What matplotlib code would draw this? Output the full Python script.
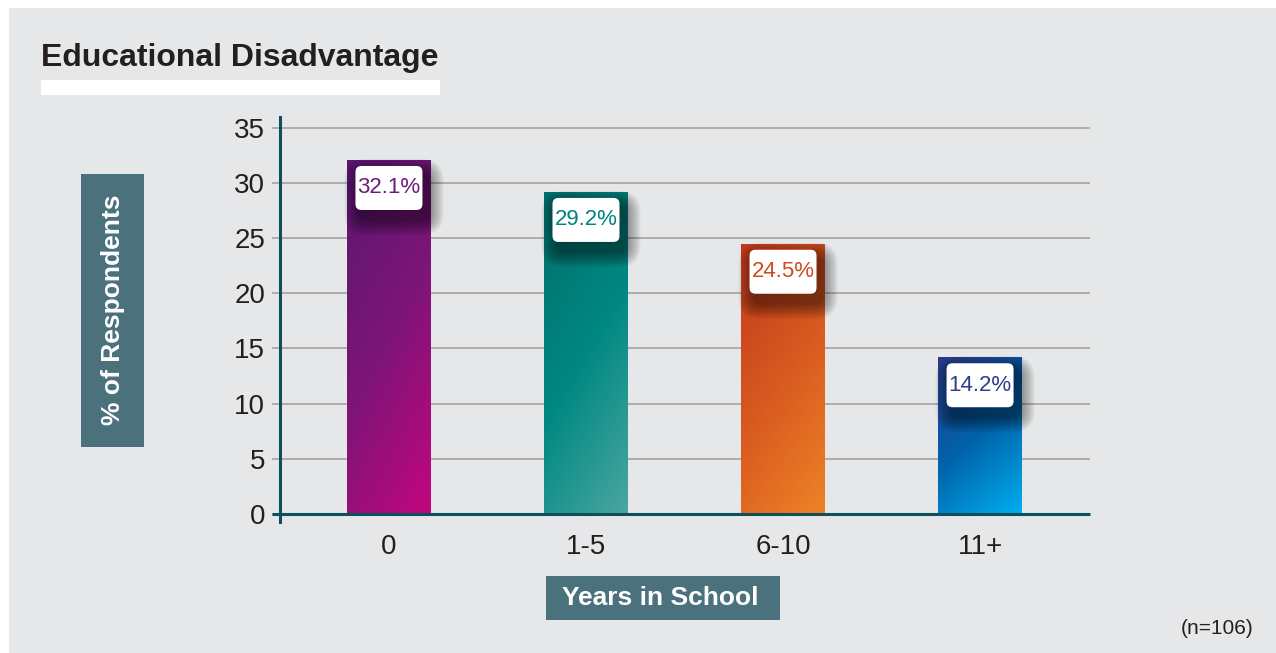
import matplotlib
matplotlib.use('Agg')
import matplotlib.pyplot as plt
import numpy as np
from matplotlib import font_manager
from matplotlib.colors import LinearSegmentedColormap
from matplotlib.patches import Rectangle, FancyBboxPatch

categories = ['0', '1-5', '6-10', '11+']
pct = [32.1, 29.2, 24.5, 14.2]
yticks = [0, 5, 10, 15, 20, 25, 30, 35]

title = 'Educational Disadvantage'
ylab = '% of Respondents'
xlab = 'Years in School'
note = '(n=106)'

grads = [
    ['#5a176f', '#7d1578', '#c2067e'],
    ['#006e6c', '#008882', '#4aa6a1'],
    ['#c23a1d', '#d85a20', '#ee8226'],
    ['#293a8a', '#0063aa', '#00aeef'],
]
label_cols = ['#6b1d7a', '#00827e', '#cf4a1e', '#2d3e8e']

teal = '#0f4f5c'
box_col = '#4a717c'
panel = '#e6e7e9'
dark = '#231f20'

names = {f.name for f in font_manager.fontManager.ttflist}
if 'Liberation Sans Narrow' in names:
    narrow, nsize = 'Liberation Sans Narrow', 17
else:
    narrow, nsize = 'Liberation Sans', 16
plt.rcParams['font.family'] = ['Liberation Sans', 'DejaVu Sans']

W, H = 1276, 653
fig = plt.figure(figsize=(W / 100, H / 100), dpi=100)
fig.patch.set_facecolor('white')
fig.patches.append(Rectangle((9 / W, 0), 1, (H - 8) / H, transform=fig.transFigure,
                             facecolor=panel, edgecolor='none', zorder=-10))

ax = fig.add_axes([280 / W, (H - 522) / H, 810 / W, 405 / H])
ax.set_facecolor('none')

x = np.arange(len(categories))
bars = ax.bar(x, pct, width=0.426, color='none', zorder=3)

# gradient fill inside each bar
gy, gx = np.mgrid[0:1:200j, 0:1:40j]
for b, cols in zip(bars, grads):
    cmap = LinearSegmentedColormap.from_list('g', cols)
    t = 0.7 * gy + 0.3 * gx
    x0, w, h = b.get_x(), b.get_width(), b.get_height()
    im = ax.imshow(t, cmap=cmap, extent=[x0, x0 + w, 0, h], origin='upper',
                   aspect='auto', zorder=3, interpolation='bilinear')
    im.set_clip_path(b)

ax.set_xlim(-0.553, 3.558)
ax.set_ylim(-0.75, 36)

# label boxes with soft shadow
px_x = np.diff(ax.get_xlim())[0] / ax.bbox.width
px_y = np.diff(ax.get_ylim())[0] / ax.bbox.height
asp = px_y / px_x
bw, bh = 67 * px_x, 44 * px_y
for i, v in enumerate(pct):
    top = v - 6 * px_y
    for k in range(10):
        grow = (k + 1) * 1.6
        sh = FancyBboxPatch((i - bw / 2 + (5 - grow) * px_x, top - bh - (9 + grow) * px_y),
                            bw + 2 * grow * px_x, bh + 2 * grow * px_y,
                            boxstyle='round,pad=0,rounding_size=%f' % ((6 + grow) * px_x),
                            mutation_aspect=asp, facecolor='black', edgecolor='none',
                            alpha=0.05, zorder=4)
        ax.add_patch(sh)
    box = FancyBboxPatch((i - bw / 2, top - bh), bw, bh,
                         boxstyle='round,pad=0,rounding_size=%f' % (6 * px_x),
                         mutation_aspect=asp, facecolor='white', edgecolor='none', zorder=5)
    ax.add_patch(box)
    ax.text(i, top - bh / 2, '%.1f%%' % v, ha='center', va='center', fontsize=nsize,
            family=[narrow, 'Liberation Sans'], color=label_cols[i], zorder=6)

ax.set_yticks(yticks)
ax.set_xticks(x)
ax.set_xticklabels(categories)
ax.yaxis.grid(True, color='#a3a3a3', linewidth=1.2, zorder=1)
ax.set_axisbelow(True)
for s in ['top', 'right', 'bottom']:
    ax.spines[s].set_visible(False)
ax.spines['left'].set_color(teal)
ax.spines['left'].set_linewidth(2.2)
ax.spines['left'].set_zorder(7)
ax.plot([-0.0099, 1], [0, 0], transform=ax.get_yaxis_transform(), clip_on=False,
        color=teal, linewidth=2.2, zorder=7, solid_capstyle='butt')
ax.tick_params(axis='y', length=5.8, width=1.2, color='#a3a3a3', pad=5,
               labelsize=20, labelcolor=dark)
ax.tick_params(axis='x', length=0, pad=9, labelsize=20, labelcolor=dark)

# title and white rule
fig.text(41 / W, (H - 66) / H, title, fontsize=23, fontweight='bold', color=dark,
         ha='left', va='baseline')
fig.patches.append(Rectangle((41 / W, (H - 95) / H), 399 / W, 15 / H,
                             transform=fig.transFigure, facecolor='white',
                             edgecolor='none'))

# axis title boxes
fig.patches.append(Rectangle((81 / W, (H - 447) / H), 63 / W, 273 / H,
                             transform=fig.transFigure, facecolor=box_col,
                             edgecolor='none'))
fig.text(113 / W, (H - 310) / H, ylab, rotation=90, fontsize=19, fontweight='bold',
         color='white', ha='center', va='center')

fig.patches.append(Rectangle((546 / W, (H - 620) / H), 234 / W, 44 / H,
                             transform=fig.transFigure, facecolor=box_col,
                             edgecolor='none'))
fig.text(660 / W, (H - 598) / H, xlab, fontsize=19, fontweight='bold',
         color='white', ha='center', va='center')

fig.text(1254 / W, (H - 628) / H, note, fontsize=15, color=dark,
         ha='right', va='center')

fig.savefig('out.png', dpi=100, facecolor=fig.get_facecolor())
